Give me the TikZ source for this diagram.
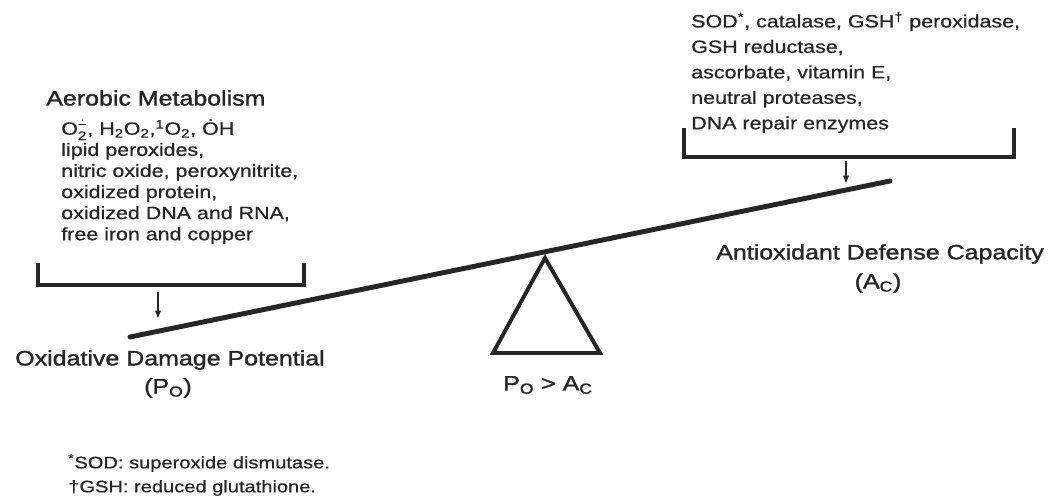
\documentclass[tikz,border=0pt]{standalone}
\usepackage{amsmath}
\usepackage{fontspec}
\setmainfont{Liberation Sans}[FakeStretch=1.2,FakeBold=0.6]
\newfontfamily\headfont{Liberation Sans}[FakeStretch=1.2,FakeBold=1.4]
\usepackage{tikz}
\usetikzlibrary{arrows.meta,positioning}
\definecolor{InkGray}{HTML}{262626}
\newcommand{\chsub}[1]{$_{\text{#1}}$}
\newcommand{\chsup}[1]{$^{\text{#1}}$}

\begin{document}
\begin{tikzpicture}[x=0.25mm,y=-0.25mm,>={Latex[length=6pt,width=4.5pt]},
    heading/.style={font=\headfont\fontsize{14.8}{17}\selectfont,text=InkGray,inner sep=0pt},
    listing/.style={font=\fontsize{12.7}{15}\selectfont,text=InkGray,align=left,inner sep=0pt},
    note/.style={font=\fontsize{11.9}{14}\selectfont,text=InkGray,inner sep=0pt},
    bracket/.style={line width=2.4pt,InkGray},
    pointer/.style={->,line width=0.9pt,InkGray}]
  \useasboundingbox (0,0) rectangle (1060,500);
  % seesaw
  \coordinate (beamL) at (130,337);
  \coordinate (beamR) at (890,181);
  \draw[line width=3.5pt,InkGray,line cap=round] (beamL)--(beamR);
  \draw[line width=2.8pt,InkGray,line join=miter] (545,258)--(493,353)--(600,353)--cycle;
  \node[heading] (ineq) at (548,385) {P\chsub{O} > A\chsub{C}};
  % left side
  \node[heading,anchor=west] (aerobic) at (46,98) {Aerobic Metabolism};
  \node[listing,anchor=north west] (oxlist) at (61,119)
      {O$_{\text{2}}^{\dot{\text{−}}}$, H\chsub{2}O\chsub{2},\chsup{1}O\chsub{2}, \.OH\\
       lipid peroxides,\\
       nitric oxide, peroxynitrite,\\
       oxidized protein,\\
       oxidized DNA and RNA,\\
       free iron and copper};
  \draw[bracket] (38,263)--(38,285)--(304,285)--(304,263);
  \coordinate (brL) at (158,292);
  \coordinate (tipL) at (158,319);
  \draw[pointer] (brL)--(tipL);
  \node[heading,anchor=west] (damage) at (15,360) {Oxidative Damage Potential};
  \node[heading] (po) at (168,388) {(P\chsub{O})};
  % right side
  \node[listing,anchor=north west,font=\fontsize{12.7}{18.1}\selectfont] (antilist) at (691,12)
      {SOD\chsup{*}, catalase, GSH\chsup{\dag} peroxidase,\\
       GSH reductase,\\
       ascorbate, vitamin E,\\
       neutral proteases,\\
       DNA repair enzymes};
  \draw[bracket] (684,128)--(684,157)--(1014,157)--(1014,128);
  \coordinate (brR) at (846,161);
  \coordinate (tipR) at (846,184);
  \draw[pointer] (brR)--(tipR);
  \node[heading,anchor=west] (defense) at (716,254) {Antioxidant Defense Capacity};
  \node[heading] (ac) at (878,283) {(A\chsub{C})};
  % footnotes
  \node[note,anchor=west] (fn1) at (68,463) {\chsup{*}SOD: superoxide dismutase.};
  \node[note,anchor=west] (fn2) at (68,488) {\textdagger GSH: reduced glutathione.};
\end{tikzpicture}
\end{document}
